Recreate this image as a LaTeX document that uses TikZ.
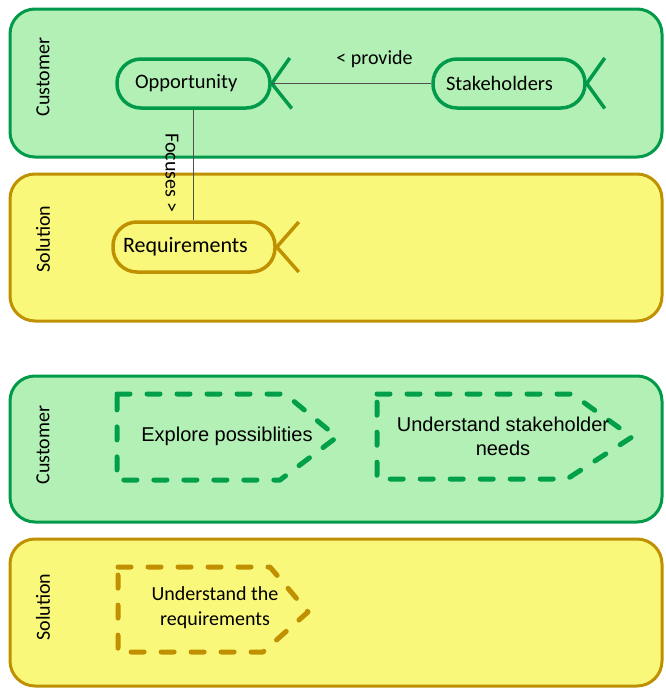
\documentclass[tikz,border=0pt]{standalone}
\usepackage{fontspec}
\setmainfont{Carlito}
\newfontfamily\arialfont{Liberation Sans}
\definecolor{custfill}{HTML}{B3F0B5}
\definecolor{custedge}{HTML}{009A4A}
\definecolor{solfill}{HTML}{FAF87A}
\definecolor{soledge}{HTML}{BF9000}
\definecolor{dashgreen}{HTML}{00A04A}
\definecolor{dashgold}{HTML}{C09000}
\definecolor{linkgray}{HTML}{505050}
\begin{document}
\begin{tikzpicture}[x=1pt,y=-1pt,
  font=\fontsize{20}{24}\selectfont,
  lane/.style={rounded corners=25pt, line width=3pt},
  custlane/.style={lane, draw=custedge, fill=custfill},
  sollane/.style={lane, draw=soledge, fill=solfill},
  lanelabel/.style={rotate=90, inner sep=0pt},
  actor/.style={rectangle, rounded corners=24pt, line width=3.5pt,
    minimum height=49pt, align=left, inner ysep=0pt,
    font=\fontsize{20.5}{24}\selectfont},
  tail/.style={line width=3.5pt, line join=round},
  link/.style={draw=linkgray, line width=1pt},
  stepshape/.style={line width=5pt, dash pattern=on 13pt off 17pt,
    line cap=round, line join=round},
  steptext/.style={align=center, font=\arialfont\fontsize{20}{24}\selectfont},
]
\useasboundingbox (0,0) rectangle (666,688);

% swimlanes
\draw[custlane] (10,9) rectangle (662,157);
\draw[sollane]  (10,174) rectangle (662,321);
\draw[custlane] (10,376) rectangle (662,522);
\draw[sollane]  (10,539) rectangle (662,686);

\node[lanelabel] (lc1) at (43,77)  {Customer};
\node[lanelabel] (ls1) at (43,239) {Solution};
\node[lanelabel] (lc2) at (43,445) {Customer};
\node[lanelabel] (ls2) at (43,607) {Solution};

% business actors
\node[actor, draw=custedge, inner xsep=18pt, text width=117pt] (opp) at (193.5,83.5) {Opportunity};
\node[actor, draw=custedge, inner xsep=13pt, text width=126pt] (stake) at (509,83.5) {Stakeholders};
\node[actor, draw=soledge, inner xsep=10pt, text width=142pt, minimum height=50pt,
  font=\fontsize{22}{26}\selectfont] (req) at (194,247) {Requirements};

\draw[tail, draw=custedge] ([shift={(18,-25.5)}]opp.east) -- (opp.east) -- ([shift={(20,25)}]opp.east);
\draw[tail, draw=custedge] ([shift={(18,-25.5)}]stake.east) -- (stake.east) -- ([shift={(18,25)}]stake.east);
\draw[tail, draw=soledge] ([shift={(22,-25)}]req.east) -- (req.east) -- ([shift={(22,25)}]req.east);

% relations
\draw[link] (stake.west) -- node[pos=0.356, yshift=24pt] (provide) {< provide} (opp.east);
\draw[link] (opp.south) -- (opp.south |- req.north);
\node[rotate=-90] (focuses) at ([shift={(-21.5,63)}]opp.south) {Focuses >};

% process steps
\draw[stepshape, draw=dashgreen] (117,394) -- (285,394) -- (337,437) -- (280,480) -- (117,480) -- cycle;
\node[steptext] (explore) at (227,436) {Explore possiblities};

\draw[stepshape, draw=dashgreen] (377,394) -- (572,394) -- (632,437) -- (567,479) -- (377,479) -- cycle;
\node[steptext] (needs) at (503,436) {Understand stakeholder\\needs};

\draw[stepshape, draw=dashgold] (118,567) -- (270,567) -- (308,612) -- (263,652) -- (118,652) -- cycle;
\node[align=center, font=\fontsize{20}{25}\selectfont] (understand) at (215,608) {Understand the\\requirements};
\end{tikzpicture}
\end{document}
